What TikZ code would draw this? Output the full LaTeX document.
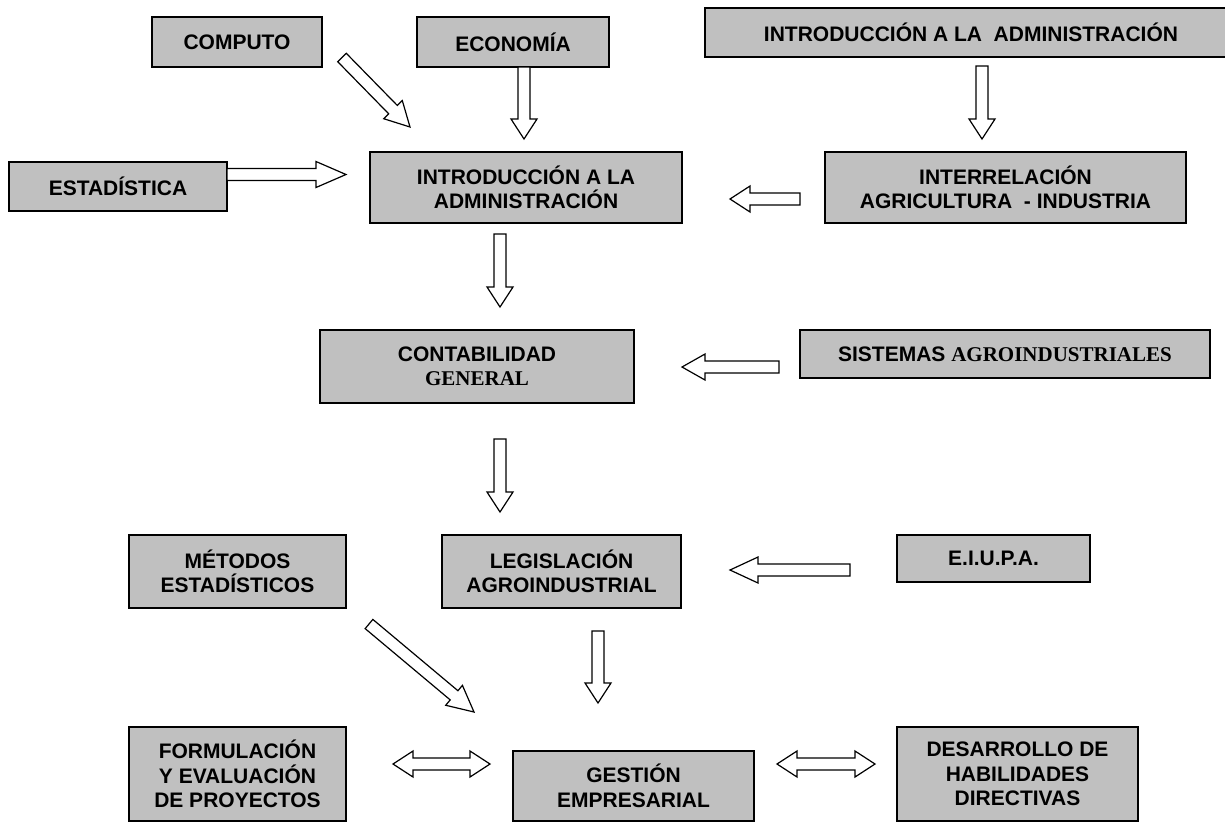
\documentclass[tikz,border=0pt]{standalone}
\usepackage{fontspec}
\setmainfont{Liberation Sans}
\newfontfamily\tnr{Liberation Serif}
\usetikzlibrary{calc}
\definecolor{boxgray}{RGB}{192,192,192}
% hollow block arrow from #2 to #3, head length #1 (pt)
\newcommand\blockarrow[3][20]{%
  \draw[blk] let \p1=(#2), \p2=(#3),
      \n1={atan2(\y2-\y1,\x2-\x1)},
      \n2={veclen(\x2-\x1,\y2-\y1)} in
    ($(\p1)+(\n1+90:6pt)$)
 -- ($(\p1)+(\n1:{(\n2-#1)*1pt})+(\n1+90:6pt)$)
 -- ($(\p1)+(\n1:{(\n2-#1)*1pt})+(\n1+90:13pt)$)
 -- (\p2)
 -- ($(\p1)+(\n1:{(\n2-#1)*1pt})+(\n1-90:13pt)$)
 -- ($(\p1)+(\n1:{(\n2-#1)*1pt})+(\n1-90:6pt)$)
 -- ($(\p1)+(\n1-90:6pt)$) -- cycle;}
% hollow double-headed block arrow between #2 and #3
\newcommand\dblockarrow[3][20]{%
  \draw[blk] let \p1=(#2), \p2=(#3),
      \n1={atan2(\y2-\y1,\x2-\x1)},
      \n2={veclen(\x2-\x1,\y2-\y1)} in
    (\p1)
 -- ($(\p1)+(\n1:#1pt)+(\n1+90:13pt)$)
 -- ($(\p1)+(\n1:#1pt)+(\n1+90:6pt)$)
 -- ($(\p1)+(\n1:{(\n2-#1)*1pt})+(\n1+90:6pt)$)
 -- ($(\p1)+(\n1:{(\n2-#1)*1pt})+(\n1+90:13pt)$)
 -- (\p2)
 -- ($(\p1)+(\n1:{(\n2-#1)*1pt})+(\n1-90:13pt)$)
 -- ($(\p1)+(\n1:{(\n2-#1)*1pt})+(\n1-90:6pt)$)
 -- ($(\p1)+(\n1:#1pt)+(\n1-90:6pt)$)
 -- ($(\p1)+(\n1:#1pt)+(\n1-90:13pt)$) -- cycle;}
\begin{document}
\begin{tikzpicture}[x=1pt,y=-1pt,
  box/.style={draw=black, line width=2pt, fill=boxgray, align=center,
    inner sep=0pt, font=\fontsize{21}{24.5}\selectfont\bfseries},
  blk/.style={draw=black, fill=white, line width=1.2pt, line join=miter}]
\useasboundingbox (0,0) rectangle (1225,823);
% boxes
\node[box, minimum width=170pt, minimum height=50pt] (computo) at (237,42) {COMPUTO};
\node[box, minimum width=192pt, minimum height=50pt] (economia) at (513,42) {ECONOMÍA};
\node[box, minimum width=532pt, minimum height=49pt] (introtop) at (971,32.5) {INTRODUCCIÓN A LA\ \ ADMINISTRACIÓN};
\node[box, minimum width=218pt, minimum height=49pt] (estad) at (118,186.5) {ESTADÍSTICA};
\node[box, minimum width=312pt, minimum height=71pt] (intro) at (526,187.5) {INTRODUCCIÓN A LA\\ADMINISTRACIÓN};
\node[box, minimum width=361pt, minimum height=71pt] (interrel) at (1005.5,187.5) {INTERRELACIÓN\\AGRICULTURA\ \ - INDUSTRIA};
\node[box, minimum width=314pt, minimum height=73pt] (contab) at (477,366.5) {CONTABILIDAD\\{\tnr\bfseries GENERAL}};
\node[box, minimum width=410pt, minimum height=48pt] (sistemas) at (1005,354) {SISTEMAS {\tnr\bfseries AGROINDUSTRIALES}};
\node[box, minimum width=217pt, minimum height=73pt] (metodos) at (237.5,571.5) {MÉTODOS\\ESTADÍSTICOS};
\node[box, minimum width=239pt, minimum height=73pt] (legis) at (561.5,571.5) {LEGISLACIÓN\\AGROINDUSTRIAL};
\node[box, minimum width=193pt, minimum height=47pt] (eiupa) at (993.5,558.5) {E.I.U.P.A.};
\node[box, minimum width=217pt, minimum height=94pt] (form) at (237.5,774) {FORMULACIÓN\\Y EVALUACIÓN\\DE PROYECTOS};
\node[box, minimum width=241pt, minimum height=70pt] (gestion) at (633.5,786) {GESTIÓN\\EMPRESARIAL};
\node[box, minimum width=241pt, minimum height=94pt] (desarrollo) at (1017.5,774) {DESARROLLO DE\\HABILIDADES\\DIRECTIVAS};
% arrow end points
\coordinate (c1s) at (342,57.5);  \coordinate (c1e) at (410,127);
\coordinate (e1s) at (524,67);    \coordinate (e1e) at (524,139);
\coordinate (s1s) at (227,174.5); \coordinate (s1e) at (346,174.5);
\coordinate (t1s) at (982,66);    \coordinate (t1e) at (982,139);
\coordinate (r1s) at (800,199);   \coordinate (r1e) at (730,199);
\coordinate (i1s) at (500,234);   \coordinate (i1e) at (500,307);
\coordinate (g1s) at (779,367);   \coordinate (g1e) at (682,367);
\coordinate (k1s) at (500,439);   \coordinate (k1e) at (500,512);
\coordinate (u1s) at (850,570);   \coordinate (u1e) at (730,570);
\coordinate (m1s) at (369,624);   \coordinate (m1e) at (474,712);
\coordinate (l1s) at (598,631);   \coordinate (l1e) at (598,703);
\coordinate (f1s) at (393,764);   \coordinate (f1e) at (490,764);
\coordinate (d1s) at (777,764);   \coordinate (d1e) at (875,764);
% arrows
\blockarrow[24]{c1s}{c1e}
\blockarrow{e1s}{e1e}
\blockarrow[30]{s1s}{s1e}
\blockarrow{t1s}{t1e}
\blockarrow{r1s}{r1e}
\blockarrow{i1s}{i1e}
\blockarrow[23]{g1s}{g1e}
\blockarrow{k1s}{k1e}
\blockarrow[28]{u1s}{u1e}
\blockarrow[26]{m1s}{m1e}
\blockarrow{l1s}{l1e}
\dblockarrow{f1s}{f1e}
\dblockarrow{d1s}{d1e}
\end{tikzpicture}
\end{document}
